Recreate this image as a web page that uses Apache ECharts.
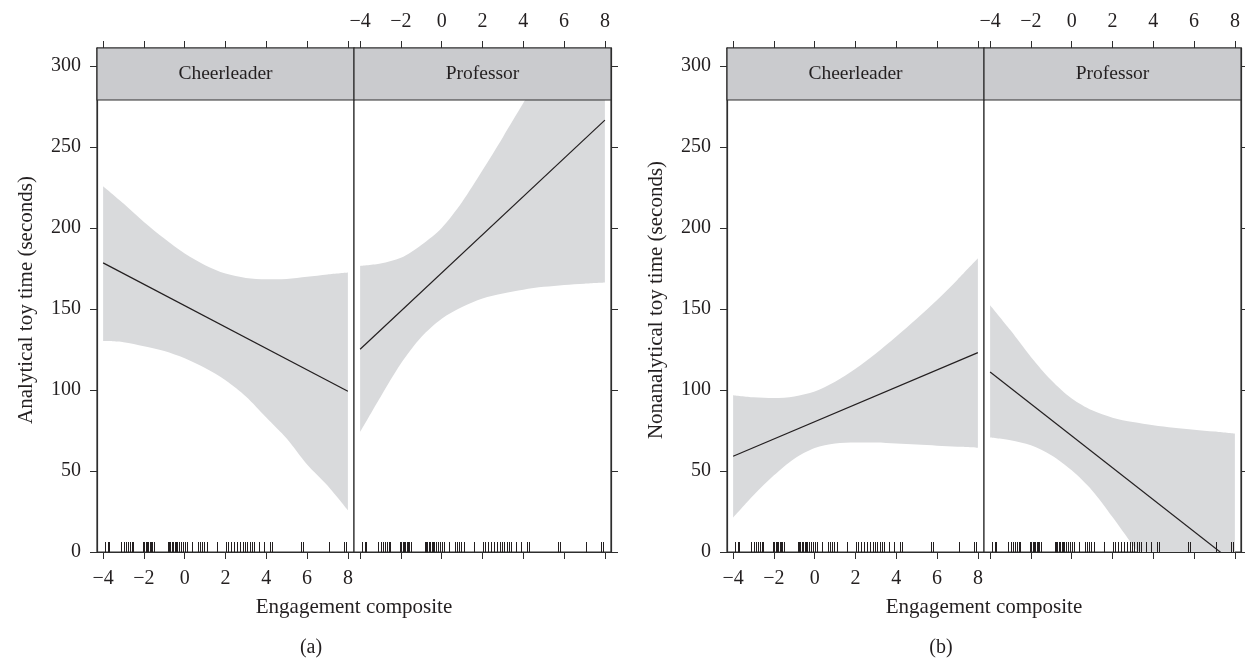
<!DOCTYPE html>
<html>
<head>
<meta charset="utf-8">
<script src="https://cdn.jsdelivr.net/npm/echarts@6/dist/echarts.min.js"></script>
<style>
  html, body { margin: 0; padding: 0; background: #fff; }
  #chart { width: 1245px; height: 663px; }
</style>
</head>
<body>
<div id="chart"></div>
<script>
// axes
const xTicks = [-4, -2, 0, 2, 4, 6, 8]
const yTicks = [0, 50, 100, 150, 200, 250, 300]
const panelNames = ['Cheerleader', 'Professor']
const yTitles = ['Analytical toy time (seconds)', 'Nonanalytical toy time (seconds)']
const xTitle = 'Engagement composite'
const subLabels = ['(a)', '(b)']

// effect lines (ends) and confidence bands
const fitX = [-4, 8]
const aCheerFit = [178.4, 99.2]
const aProfFit = [125.1, 266.5]
const bCheerFit = [59.1, 123.0]
const bProfFit = [111.1, -7.1]

const bandX = [-4, -3, -2, -1, 0, 1, 2, 3, 4, 5, 6, 7, 8]
const aCheerUpper = [225.7, 215, 203.7, 193.4, 184.2, 177, 171.8, 169.1, 168.3, 168.5, 169.8, 171.2, 172.4]
const aCheerLower = [130.2, 129.5, 127, 124, 119.5, 113.5, 106, 96, 83, 70, 54, 41, 25.7]
const aProfUpper = [176.5, 178, 181.5, 189.5, 200, 216, 235.5, 256, 277, 298, 321, 344, 367]
const aProfLower = [74.1, 95.7, 116.3, 132.7, 144, 151.2, 156.4, 159.5, 161.9, 163.6, 164.8, 165.6, 166.3]
const bCheerUpper = [96.8, 95.5, 95, 96, 99, 105, 113, 122.5, 133, 144, 155.5, 168, 181.2]
const bCheerLower = [21.2, 35, 47.3, 57.6, 64.2, 66.9, 67.5, 67.5, 66.9, 66.3, 65.6, 65, 64.4]
const bProfUpper = [152.3, 136.8, 120.4, 106, 94.7, 87.4, 82.9, 80.2, 78.2, 76.7, 75.5, 74.3, 73]
const bProfLower = [70.6, 68.9, 65.8, 59.7, 50.4, 38, 21.6, 4.1, -13.6, -31.8, -50.3, -68.8, -87.2]

// rug of observed engagement scores (same in every panel)
const rugX = [-3.89, -3.77, -3.69, -3.12, -3.0, -2.89, -2.77, -2.66, -2.59, -2.54,
  -2.06, -1.98, -1.91, -1.84, -1.78, -1.71, -1.65, -1.58, -1.52,
  -0.83, -0.76, -0.7, -0.63, -0.57, -0.5, -0.44, -0.37, -0.27, -0.18, -0.08, 0.0, 0.12,
  0.36, 0.64, 0.74, 0.84, 0.93, 1.07, 1.56, 2.0, 2.13, 2.26, 2.44, 2.57, 2.73, 2.86, 2.96,
  3.06, 3.19, 3.32, 3.39, 3.66, 3.88, 4.2, 4.28, 5.71, 5.8, 7.09, 7.8, 7.91]

const panels = [
  { fig: 0, side: 0, fit: aCheerFit, up: aCheerUpper, lo: aCheerLower },
  { fig: 0, side: 1, fit: aProfFit, up: aProfUpper, lo: aProfLower },
  { fig: 1, side: 0, fit: bCheerFit, up: bCheerUpper, lo: bCheerLower },
  { fig: 1, side: 1, fit: bProfFit, up: bProfUpper, lo: bProfLower }
]

const ink = '#231f20', frame = '#2e2e2e', bandColor = '#d9dadc', stripColor = '#cacbce'
const font = '"Liberation Serif", "DejaVu Serif", serif'
const figOffset = [0, 630]
const panelLeft = [97, 354], panelW = 257, panelTop = 48, panelH = 504, stripH = 52
const xMin = -4.3, xMax = 8.3, yMin = 0, yMax = 311
const fmt = v => String(v).replace('-', '\u2212')

const grid = [], xAxis = [], yAxis = [], series = [], graphic = []

panels.forEach((p, i) => {
  const left = figOffset[p.fig] + panelLeft[p.side]
  grid.push({ left, top: panelTop, width: panelW, height: panelH, show: true,
    borderColor: frame, borderWidth: 1.2, backgroundColor: '#fff', outerBoundsMode: 'none' })

  const axisBase = {
    type: 'value', gridIndex: i, min: xMin, max: xMax, z: 5,
    axisLine: { show: true, onZero: false, lineStyle: { color: frame, width: 1.2 } },
    axisTick: { show: true, length: 7, customValues: xTicks, lineStyle: { color: frame, width: 1 } },
    splitLine: { show: false }
  }
  const lbl = { customValues: xTicks, formatter: fmt, color: ink, fontFamily: font, fontSize: 20 }
  xAxis.push(Object.assign({}, axisBase, { position: 'bottom',
    axisLabel: Object.assign({ show: p.side === 0, margin: 17 }, lbl) }))
  xAxis.push(Object.assign({}, axisBase, { position: 'top',
    axisLabel: Object.assign({ show: p.side === 1, margin: 16 }, lbl) }))

  yAxis.push({
    type: 'value', gridIndex: i, min: yMin, max: yMax, z: 5,
    position: p.side === 0 ? 'left' : 'right',
    axisLine: { show: true, onZero: false, lineStyle: { color: frame, width: 1.2 } },
    axisTick: { show: true, length: 7, customValues: yTicks, lineStyle: { color: frame, width: 1 } },
    axisLabel: { show: p.side === 0, customValues: yTicks, margin: 16, color: ink, fontFamily: font, fontSize: 20 },
    splitLine: { show: false },
    name: p.side === 0 ? yTitles[p.fig] : '',
    nameLocation: 'middle', nameGap: 60, nameRotate: 90,
    nameTextStyle: { color: ink, fontFamily: font, fontSize: 21 }
  })

  // band: lower edge + stacked width; value placed in dim 0 so the stack runs along y
  const key = 'band' + i
  const common = { type: 'line', xAxisIndex: i * 2, yAxisIndex: i, symbol: 'none', smooth: 0.3,
    silent: true, clip: true, stack: key, stackStrategy: 'all', encode: { x: 1, y: 0 },
    lineStyle: { width: 0, opacity: 0 } }
  series.push(Object.assign({}, common, {
    data: bandX.map((x, k) => [p.lo[k], x]), z: 1
  }))
  series.push(Object.assign({}, common, {
    data: bandX.map((x, k) => [p.up[k] - p.lo[k], x]),
    areaStyle: { color: bandColor, opacity: 1 }, z: 1
  }))
  series.push({ type: 'line', xAxisIndex: i * 2, yAxisIndex: i, symbol: 'none', silent: true, clip: true,
    data: fitX.map((x, k) => [x, p.fit[k]]), lineStyle: { color: ink, width: 1.2 }, z: 3 })
  series.push({ type: 'custom', xAxisIndex: i * 2, yAxisIndex: i, silent: true, z: 4,
    data: rugX.map(x => [x, yMin]), encode: { x: 0, y: 1 },
    renderItem: (params, api) => {
      const pt = api.coord([api.value(0), api.value(1)])
      const px = Math.round(pt[0]) + 0.5
      return { type: 'line', shape: { x1: px, y1: pt[1], x2: px, y2: pt[1] - 10 },
        style: { stroke: ink, lineWidth: 1 } }
    } })

  // strip on top of the panel
  graphic.push({ type: 'rect', z: 100, shape: { x: left, y: panelTop, width: panelW, height: stripH },
    style: { fill: stripColor, stroke: frame, lineWidth: 1.2 } })
  graphic.push({ type: 'text', z: 101, x: left + panelW / 2, y: panelTop + stripH / 2,
    style: { text: panelNames[p.side], fill: ink, font: '19.5px ' + font,
      textAlign: 'center', textVerticalAlign: 'middle', align: 'center', verticalAlign: 'middle' } })
})

figOffset.forEach((off, f) => {
  graphic.push({ type: 'text', z: 101, x: off + panelLeft[1], y: 607,
    style: { text: xTitle, fill: ink, font: '21px ' + font,
      textAlign: 'center', textVerticalAlign: 'middle', align: 'center', verticalAlign: 'middle' } })
  graphic.push({ type: 'text', z: 101, x: off + 311, y: 648,
    style: { text: subLabels[f], fill: ink, font: '20px ' + font,
      textAlign: 'center', textVerticalAlign: 'middle', align: 'center', verticalAlign: 'middle' } })
})

const chart = echarts.init(document.getElementById('chart'), null, { renderer: 'canvas' })
chart.setOption({ backgroundColor: '#fff', animation: false, grid, xAxis, yAxis, series, graphic })
window.addEventListener('resize', () => chart.resize())
</script>
</body>
</html>
